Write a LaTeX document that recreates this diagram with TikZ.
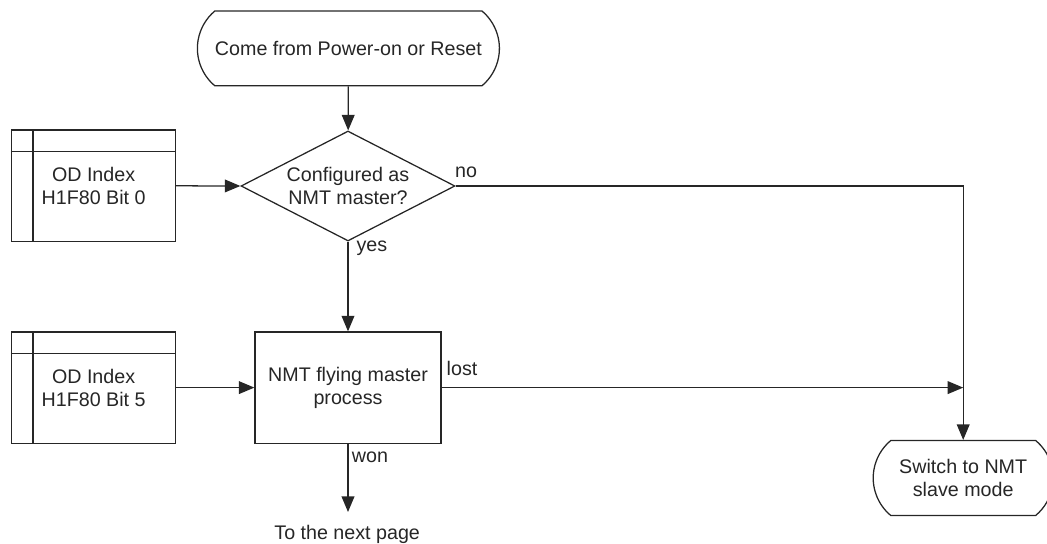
\documentclass[tikz,border=0pt]{standalone}
\usepackage{fontspec}
\setmainfont{Liberation Sans}
\usepackage{tikz}
\usetikzlibrary{
    positioning,
    shapes.geometric,
    shapes.misc,
    arrows.meta
}
\tikzset{
    > = {Triangle[length=3.9mm, width=3.2mm]},
    every node/.style = {font=\fontsize{14}{16.5}\selectfont},
    terminal/.style = {draw, rounded rectangle, rounded rectangle arc length=100,
        minimum width=#1, minimum height=1.87cm, align=center, inner sep=0pt},
    decision/.style = {draw, diamond, aspect=1.95, minimum width=5.35cm,
        minimum height=2.75cm, align=center, inner sep=0pt},
    process/.style = {draw, rectangle, minimum width=4.65cm,
        minimum height=2.78cm, align=center},
    odbox/.style = {draw, rectangle, minimum width=4.1cm,
        minimum height=2.78cm, align=center},
}

\begin{document}
\begin{tikzpicture}[color=black!85, line width=0.9pt]
\useasboundingbox (0,0) rectangle (26.175,-13.6);

\node[terminal=7.55cm] (start) at (8.71,-1.21) {Come from Power-on or Reset};
\node[decision] (master) at (8.7,-4.65) {Configured as\\NMT master?};
\node[process] (flying) at (8.7,-9.69) {NMT flying master\\process};
\node[terminal=4.5cm] (slave) at (24.08,-11.95) {Switch to NMT\\slave mode};

\node[odbox] (bit0) at (2.34,-4.64) {OD Index\\H1F80 Bit 0};
\node[odbox] (bit5) at (2.34,-9.69) {OD Index\\H1F80 Bit 5};

% the little header strips of the OD boxes
\draw ([xshift=0.55cm]bit0.north west) -- ([xshift=0.55cm]bit0.south west);
\draw ([yshift=-0.55cm]bit0.north west) -- ([yshift=-0.55cm]bit0.north east);
\draw ([xshift=0.55cm]bit5.north west) -- ([xshift=0.55cm]bit5.south west);
\draw ([yshift=-0.55cm]bit5.north west) -- ([yshift=-0.55cm]bit5.north east);

\coordinate (corner) at (24.08,-4.65);
\coordinate (join) at (24.08,-9.69);
\coordinate (nextpt) at (8.7,-12.8);

\draw[->] (start) -- (master);
\draw[->] (bit0) -- (master.west);
\draw[->] (master) -- (flying);
\draw[->] (bit5) -- (flying);
\draw[->] (master.east) -- (corner) -- (slave.north);
\draw[->] (flying.east) -- (join);
\draw[->] (flying) -- (nextpt);

\node[anchor=west] (yes) at (8.78,-6.2) {yes};
\node (no) at (11.65,-4.3) {no};
\node (lost) at (11.55,-9.2) {lost};
\node (won) at (9.25,-11.43) {won};
\node (next) at (8.68,-13.35) {To the next page};
\end{tikzpicture}
\end{document}
